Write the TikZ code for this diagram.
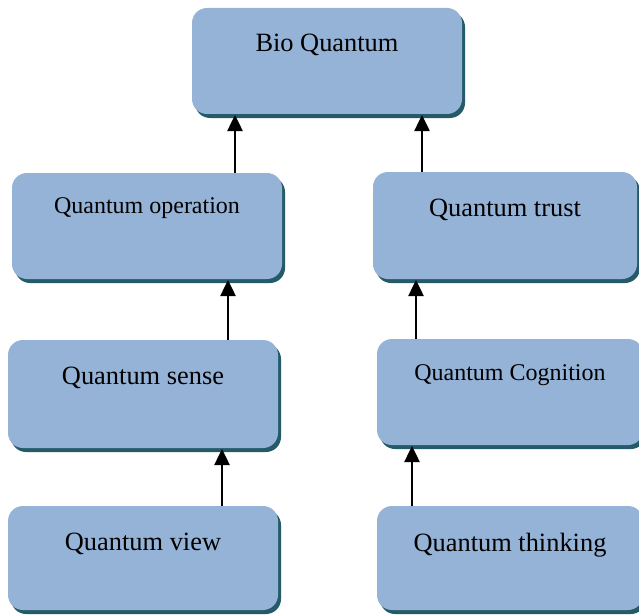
\documentclass[tikz,border=0pt]{standalone}
\usepackage{fontspec}
\setmainfont{Liberation Serif}
\usetikzlibrary{shadows,arrows.meta}
\definecolor{boxfill}{HTML}{95B3D7}
\definecolor{shadowc}{HTML}{255B68}
\newcommand{\qtext}[5]{\parbox[c][#2pt][t]{#1pt}{\centering\fontsize{#4}{#4}\selectfont\rule{0pt}{#3pt}#5}}
\tikzset{
  qbox/.style={fill=boxfill, rounded corners=15pt, inner sep=0pt, outer sep=0pt,
    anchor=north west,
    drop shadow={shadow xshift=3pt, shadow yshift=-4pt, fill=shadowc, opacity=1}},
  arr/.style={line width=2.5pt, -{Triangle[length=16pt,width=15pt]}, shorten >=1pt}
}
\begin{document}
\begin{tikzpicture}[x=1pt,y=-1pt]
\fill[white] (0,0) rectangle (639,615);
\useasboundingbox (0,0) rectangle (639,615);
\node[qbox] (bio)   at (192,8)   {\qtext{270}{106}{44}{26.4}{Bio Quantum}};
\node[qbox] (op)    at (12,173)  {\qtext{270}{106}{40}{24}{Quantum operation}};
\node[qbox] (trust) at (373,172) {\qtext{264}{107}{44}{26.4}{Quantum trust}};
\node[qbox] (sense) at (8,340)   {\qtext{270}{108}{44}{26.4}{Quantum sense}};
\node[qbox] (cog)   at (377,339) {\qtext{266}{106}{41}{24}{Quantum Cognition}};
\node[qbox] (view)  at (8,506)   {\qtext{270}{104}{44}{26.4}{Quantum view}};
\node[qbox] (think) at (377,506) {\qtext{266}{104}{45}{26.4}{Quantum thinking}};
\coordinate (a1) at ([xshift=88pt]op.north);
\coordinate (a2) at ([xshift=-83pt]trust.north);
\coordinate (a3) at ([xshift=85pt]sense.north);
\coordinate (a4) at ([xshift=-94pt]cog.north);
\coordinate (a5) at ([xshift=79pt]view.north);
\coordinate (a6) at ([xshift=-98pt]think.north);
\draw[arr] (a1) -- (a1 |- bio.south);
\draw[arr] (a2) -- (a2 |- bio.south);
\draw[arr] (a3) -- (a3 |- op.south);
\draw[arr] (a4) -- (a4 |- trust.south);
\draw[arr] (a5) -- (a5 |- sense.south);
\draw[arr] (a6) -- (a6 |- cog.south);
\end{tikzpicture}
\end{document}
